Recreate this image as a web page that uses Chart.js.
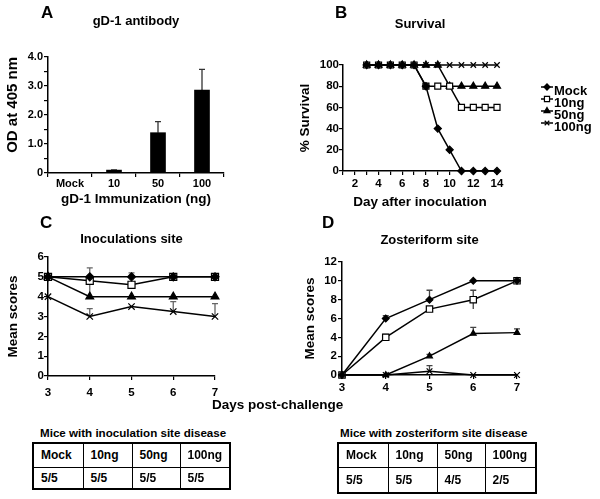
<!DOCTYPE html>
<html><head><meta charset="utf-8">
<script src="https://cdn.jsdelivr.net/npm/chart.js@4.4.1/dist/chart.umd.min.js"></script>
<style>
html,body{margin:0;padding:0;background:#fff;}
#wrap{position:relative;width:600px;height:499px;overflow:hidden;background:#fff;font-family:"Liberation Sans",Arial,Helvetica,sans-serif;font-weight:bold;color:#000;}
canvas{position:absolute;}
.lbl{position:absolute;white-space:nowrap;line-height:1;}
table.t{position:absolute;border-collapse:collapse;border:2px solid #000;font-size:12px;table-layout:fixed;}
table.t td{border:1px solid #000;padding:0 0 0 7px;text-align:left;vertical-align:middle;overflow:hidden;}
</style></head>
<body><div id="wrap">
<canvas id="cA" width="290" height="212" style="left:0;top:0;width:290px;height:212px"></canvas>
<canvas id="cB" width="310" height="212" style="left:290px;top:0;width:310px;height:212px"></canvas>
<canvas id="cC" width="290" height="200" style="left:0;top:212px;width:290px;height:200px"></canvas>
<canvas id="cD" width="310" height="200" style="left:290px;top:212px;width:310px;height:200px"></canvas>
<div class="lbl" style="left:41px;top:4px;font-size:17px">A</div>
<div class="lbl" style="left:335px;top:4px;font-size:17px">B</div>
<div class="lbl" style="left:40px;top:214px;font-size:17px">C</div>
<div class="lbl" style="left:322px;top:214px;font-size:17px">D</div>
<div class="lbl" style="left:212px;top:398px;font-size:13.5px">Days post-challenge</div>
<div class="lbl" style="left:40px;top:427px;font-size:11.6px">Mice with inoculation site disease</div>
<div class="lbl" style="left:340px;top:427px;font-size:11.6px">Mice with zosteriform site disease</div>
<table class="t" id="tInoc" style="left:32px;top:442px;width:197px;height:46px"></table>
<table class="t" id="tZost" style="left:337px;top:442px;width:198px;height:50px"></table>
</div>
<script>
// ---------------- DATA ----------------
const abGroups = ['Mock', '10', '50', '100'];
const abOD = [0.01, 0.1, 1.39, 2.86];
const abErr = [0, 0.01, 0.38, 0.71];

const seriesNames = ['Mock', '10ng', '50ng', '100ng'];

const survDays = [3, 4, 5, 6, 7, 8, 9, 10, 11, 12, 13, 14];
const survMock = [100, 100, 100, 100, 100, 80, 40, 20, 0, 0, 0, 0];
const surv10 = [100, 100, 100, 100, 100, 80, 80, 80, 60, 60, 60, 60];
const surv50 = [100, 100, 100, 100, 100, 100, 100, 80, 80, 80, 80, 80];
const surv100 = [100, 100, 100, 100, 100, 100, 100, 100, 100, 100, 100, 100];

const scoreDays = [3, 4, 5, 6, 7];
const inocMock = [5, 5, 5, 5, 5];
const inoc10 = [5, 4.8, 4.6, 5, 5];
const inoc50 = [5, 4, 4, 4, 4];
const inoc100 = [4, 3, 3.5, 3.25, 3];
const inocErrMock = [0, 0, 0.2, 0, 0];
const inocErr10 = [0, 0.65, 0, 0, 0];
const inocErr50 = [0, 0, 0, 0, 0];
const inocErr100 = [0, 0.4, 0, 0.5, 0.65];

const zostMock = [0, 6, 8, 10, 10];
const zost10 = [0, 4, 7, 8, 10];
const zost50 = [0, 0, 2, 4.4, 4.5];
const zost100 = [0, 0, 0.4, 0, 0];
const zostErrMock = [0, 0.3, 1.0, 0, 0];
const zostErr10 = [0, 0.3, 0.2, 1.0, 0];
const zostErr50 = [0, 0, 0.2, 0.65, 0.4];
const zostErr100 = [0, 0, 0.6, 0, 0];

const tableGroups = ['Mock', '10ng', '50ng', '100ng'];
const inocDiseaseCounts = ['5/5', '5/5', '5/5', '5/5'];
const zostDiseaseCounts = ['5/5', '5/5', '4/5', '2/5'];

// ---------------- STYLE ----------------
const FONT = '"Liberation Sans", Arial, Helvetica, sans-serif';
Chart.defaults.font.family = FONT;
Chart.defaults.font.weight = 'bold';
Chart.defaults.color = '#000';
Chart.defaults.animation = false;

const markerStyles = {
  'Mock':  {pointStyle: 'rectRot', pointRadius: 4, pointBackgroundColor: '#000'},
  '10ng':  {pointStyle: 'rect', pointRadius: 5, pointBackgroundColor: '#fff'},
  '50ng':  {pointStyle: 'triangle', pointRadius: 4.5, pointBackgroundColor: '#000'},
  '100ng': {pointStyle: 'crossRot', pointRadius: 4.5, pointBackgroundColor: '#000'}
};

function series(name, xs, ys, errs, sym, scale) {
  const m = markerStyles[name];
  return Object.assign({
    label: name,
    data: xs.map((x, i) => ({x: x, y: ys[i]})),
    borderColor: '#000', borderWidth: 1.5, tension: 0, fill: false,
    pointBorderColor: '#000', pointBorderWidth: 1.2,
    clip: false,
    errUp: errs || null, errSymmetric: !!sym
  }, m, {pointRadius: m.pointRadius * (scale || 1)});
}

const errorBarPlugin = {
  id: 'errorBars',
  beforeDatasetsDraw(chart, args, opts) {
    const ctx = chart.ctx, ys = chart.scales.y;
    chart.data.datasets.forEach((ds, i) => {
      if (!ds.errUp) return;
      const meta = chart.getDatasetMeta(i);
      ctx.save();
      ctx.strokeStyle = opts.color || '#555';
      ctx.lineWidth = opts.width || 1.2;
      meta.data.forEach((el, j) => {
        const e = ds.errUp[j];
        if (!e) return;
        const raw = ds.data[j];
        const v = (typeof raw === 'object') ? raw.y : raw;
        const x = el.x;
        const yT = ys.getPixelForValue(v + e);
        const yB = ys.getPixelForValue(ds.errSymmetric ? v - e : v);
        const cap = opts.cap || 3;
        ctx.beginPath();
        ctx.moveTo(x, yB); ctx.lineTo(x, yT);
        ctx.moveTo(x - cap, yT); ctx.lineTo(x + cap, yT);
        ctx.stroke();
      });
      ctx.restore();
    });
  }
};

const sideLegendPlugin = {
  id: 'sideLegend',
  afterDraw(chart, args, opts) {
    if (!opts || !opts.display) return;
    const ctx = chart.ctx;
    const x0 = chart.chartArea.right + opts.dx;
    chart.data.datasets.forEach((ds, i) => {
      const y = chart.chartArea.top + opts.dy + i * opts.spacing;
      const ym = y - 4;
      ctx.save();
      ctx.strokeStyle = '#000'; ctx.lineWidth = 1.5;
      ctx.beginPath(); ctx.moveTo(x0, ym); ctx.lineTo(x0 + opts.lineLen, ym); ctx.stroke();
      ctx.fillStyle = ds.pointBackgroundColor; ctx.strokeStyle = '#000'; ctx.lineWidth = ds.pointBorderWidth;
      Chart.helpers.drawPoint(ctx, {pointStyle: ds.pointStyle, radius: ds.pointRadius * 0.85, rotation: 0, borderWidth: ds.pointBorderWidth}, x0 + opts.lineLen / 2, ym);
      ctx.fillStyle = '#000';
      ctx.font = 'bold 13px ' + FONT;
      ctx.textBaseline = 'middle'; ctx.textAlign = 'left';
      ctx.fillText(ds.label, x0 + opts.lineLen + 1, y);
      ctx.restore();
    });
  }
};
Chart.register(errorBarPlugin, sideLegendPlugin);

function axisBase(size, tl, pad) {
  return {
    grid: {drawOnChartArea: false, drawTicks: true, tickLength: tl, color: '#000', lineWidth: 1.2},
    border: {color: '#000', width: 1.5},
    ticks: {color: '#000', padding: pad, autoSkip: false, maxRotation: 0, minRotation: 0, font: {size: size, weight: 'bold'}}
  };
}
function titleOpt(text, pt, pb) {
  return {display: true, text: text, fullSize: false, color: '#000',
          font: {size: 13, weight: 'bold'}, padding: {top: pt, bottom: pb}};
}

// ---------------- A ----------------
(function () {
  const x = axisBase(11, 4, 0);
  x.offset = true; x.grid.offset = true;
  x.title = {display: true, text: 'gD-1 Immunization (ng)', color: '#000', font: {size: 13.5, weight: 'bold'}, padding: {top: 0, bottom: 0}};
  x.afterFit = s => { s.height = 34; };
  const y = axisBase(11, 4, 1);
  y.min = 0; y.max = 4;
  y.ticks.stepSize = 0.5;
  y.ticks.callback = v => v === 0 ? '0' : (Number.isInteger(v) ? v.toFixed(1) : '');
  y.title = {display: true, text: 'OD at 405 nm', align: 'end', color: '#000', font: {size: 15, weight: 'bold'}, padding: {top: 4, bottom: 0}};
  y.afterFit = s => { s.width = 48; };
  new Chart(document.getElementById('cA'), {
    type: 'bar',
    data: {labels: abGroups, datasets: [{data: abOD, errUp: abErr, backgroundColor: '#000', borderWidth: 0, barThickness: 15}]},
    options: {
      responsive: false, maintainAspectRatio: false,
      layout: {padding: {left: 0, right: 66, top: 0, bottom: 5}},
      scales: {x: x, y: y},
      plugins: {legend: {display: false}, tooltip: {enabled: false},
        title: titleOpt('gD-1 antibody', 14, 27.4),
        errorBars: {color: '#333', width: 1.3, cap: 3}}
    }
  });
})();

// ---------------- B ----------------
(function () {
  const x = axisBase(11.5, 4, 2);
  x.type = 'linear'; x.min = 1; x.max = 14;
  x.ticks.stepSize = 1;
  x.ticks.callback = v => (v % 2 === 0 ? String(v) : '');
  x.title = {display: true, text: 'Day after inoculation', color: '#000', font: {size: 13.5, weight: 'bold'}, padding: {top: 0, bottom: 0}};
  x.afterFit = s => { s.height = 39; };
  const y = axisBase(11.5, 4, 0);
  y.min = 0; y.max = 100; y.ticks.stepSize = 20;
  y.title = {display: true, text: '% Survival', color: '#000', font: {size: 13.5, weight: 'bold'}, padding: {top: 7, bottom: 0}};
  y.afterFit = s => { s.width = 53; };
  new Chart(document.getElementById('cB'), {
    type: 'line',
    data: {datasets: [
      series('Mock', survDays, survMock, null, false, 0.9),
      series('10ng', survDays, surv10, null, false, 0.85),
      series('50ng', survDays, surv50, null, false, 0.9),
      series('100ng', survDays, surv100, null, false, 0.85)
    ]},
    options: {
      responsive: false, maintainAspectRatio: false,
      layout: {padding: {left: 0, right: 103, top: 0, bottom: 2}},
      scales: {x: x, y: y},
      plugins: {legend: {display: false}, tooltip: {enabled: false},
        title: titleOpt('Survival', 16.2, 33.2),
        sideLegend: {display: true, dx: 44, dy: 26, spacing: 12, lineLen: 12}}
    }
  });
})();

// ---------------- C ----------------
(function () {
  const x = axisBase(11.5, 4, 6);
  x.type = 'linear'; x.min = 3; x.max = 7; x.ticks.stepSize = 1;
  x.afterFit = s => { s.height = 36; };
  const y = axisBase(11.5, 4, 0);
  y.min = 0; y.max = 6; y.ticks.stepSize = 1;
  y.title = {display: true, text: 'Mean scores', color: '#000', font: {size: 13.5, weight: 'bold'}, padding: {top: 5, bottom: 0}};
  y.afterFit = s => { s.width = 48; };
  new Chart(document.getElementById('cC'), {
    type: 'line',
    data: {datasets: [
      series('Mock', scoreDays, inocMock, inocErrMock),
      series('10ng', scoreDays, inoc10, inocErr10, true),
      series('50ng', scoreDays, inoc50, inocErr50),
      series('100ng', scoreDays, inoc100, inocErr100)
    ]},
    options: {
      responsive: false, maintainAspectRatio: false,
      layout: {padding: {left: 0, right: 75, top: 0, bottom: 0}},
      scales: {x: x, y: y},
      plugins: {legend: {display: false}, tooltip: {enabled: false},
        title: titleOpt('Inoculations site', 19.2, 10.2),
        errorBars: {color: '#666', width: 1.3, cap: 3}}
    }
  });
})();

// ---------------- D ----------------
(function () {
  const x = axisBase(11.5, 4, 2.4);
  x.type = 'linear'; x.min = 3; x.max = 7; x.ticks.stepSize = 1;
  x.afterFit = s => { s.height = 37; };
  const y = axisBase(11.5, 4, 1);
  y.min = 0; y.max = 12; y.ticks.stepSize = 2;
  y.title = {display: true, text: 'Mean scores', color: '#000', font: {size: 13.5, weight: 'bold'}, padding: {top: 12, bottom: 0}};
  y.afterFit = s => { s.width = 52; };
  new Chart(document.getElementById('cD'), {
    type: 'line',
    data: {datasets: [
      series('Mock', scoreDays, zostMock, zostErrMock, false, 0.85),
      series('10ng', scoreDays, zost10, zostErr10, true, 0.9),
      series('50ng', scoreDays, zost50, zostErr50, false, 0.75),
      series('100ng', scoreDays, zost100, zostErr100, false, 0.9)
    ]},
    options: {
      responsive: false, maintainAspectRatio: false,
      layout: {padding: {left: 0, right: 83, top: 0, bottom: 0}},
      scales: {x: x, y: y},
      plugins: {legend: {display: false}, tooltip: {enabled: false},
        title: titleOpt('Zosteriform site', 20.2, 14.2),
        errorBars: {color: '#444', width: 1.3, cap: 3}}
    }
  });
})();

// ---------------- Tables ----------------
function buildTable(id, heads, vals, colW, rowH) {
  const t = document.getElementById(id);
  const cg = document.createElement('colgroup');
  colW.forEach(w => { const c = document.createElement('col'); c.style.width = w + 'px'; cg.appendChild(c); });
  t.appendChild(cg);
  [heads, vals].forEach((row, r) => {
    const tr = document.createElement('tr');
    tr.style.height = rowH[r] + 'px';
    row.forEach(v => { const td = document.createElement('td'); td.textContent = v; tr.appendChild(td); });
    t.appendChild(tr);
  });
}
buildTable('tInoc', tableGroups, inocDiseaseCounts, [50, 49, 48, 50], [24, 22]);
buildTable('tZost', tableGroups, zostDiseaseCounts, [50, 49, 48, 51], [24, 26]);
</script>
</body></html>
